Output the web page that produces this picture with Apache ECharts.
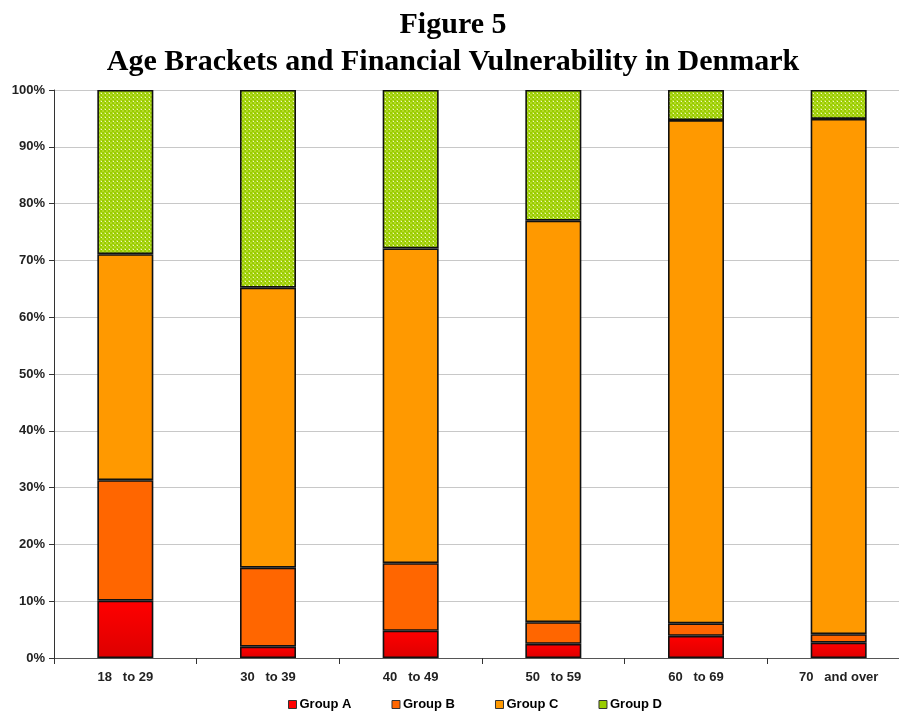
<!DOCTYPE html>
<html><head><meta charset="utf-8">
<script src="https://cdn.jsdelivr.net/npm/echarts@6/dist/echarts.min.js"></script>
<style>html,body{margin:0;padding:0;background:#fff;overflow:hidden}#c{width:912px;height:712px}</style>
</head><body><div id="c"></div>
<script>
var categories = ['18   to 29', '30   to 39', '40   to 49', '50   to 59', '60   to 69', '70   and over'];
var groupA = [10.1, 2.0, 4.8, 2.5, 3.9, 2.7];
var groupB = [21.2, 13.9, 11.9, 3.8, 2.2, 1.5];
var groupC = [39.8, 49.3, 55.4, 70.7, 88.6, 90.7];
var groupD = [28.9, 34.8, 27.9, 23.0, 5.3, 5.1];
var seriesNames = ['Group A', 'Group B', 'Group C', 'Group D'];

function greenPattern() {
  var c = document.createElement('canvas');
  c.width = 4; c.height = 4;
  var x = c.getContext('2d');
  x.fillStyle = '#99cc00'; x.fillRect(0, 0, 4, 4);
  x.fillStyle = '#b4da28'; x.fillRect(0, 0, 2, 2); x.fillRect(2, 2, 2, 2);
  x.fillStyle = '#f0f8c8'; x.fillRect(1, 1, 1, 1);
  return c;
}
var colA = {type:'linear', x:0, y:0, x2:0, y2:1, colorStops:[{offset:0,color:'#ff0000'},{offset:1,color:'#dd0000'}]};
var colors = [colA, '#ff6600', '#ff9900', {image: greenPattern(), repeat: 'repeat'}];
var legendColors = ['#ff0000', '#ff6600', '#ff9900', '#99cc00'];
var data = [groupA, groupB, groupC, groupD];

var chart = echarts.init(document.getElementById('c'), null, {renderer: 'canvas'});
chart.setOption({
  animation: false,
  backgroundColor: '#fff',
  title: {
    text: 'Figure 5\nAge Brackets and Financial Vulnerability in Denmark',
    left: 448, top: 2, textAlign: 'center',
    textStyle: {fontFamily: 'Liberation Serif', fontWeight: 'bold', fontSize: 30, lineHeight: 37, color: '#000'}
  },
  legend: {
    top: 693, left: 283, itemWidth: 8, itemHeight: 8, itemGap: 40,
    icon: 'rect',
    textStyle: {fontFamily: 'Liberation Sans', fontWeight: 'bold', fontSize: 13, color: '#000', padding: [0, 0, 0, -2]},
    data: seriesNames.map(function (n, i) {
      return {name: n, itemStyle: {color: legendColors[i], borderColor: '#333', borderWidth: 1}};
    })
  },
  grid: {left: 54, top: 90, bottom: 54, width: 856},
  xAxis: {
    type: 'category', data: categories,
    axisLine: {lineStyle: {color: '#555', width: 1}},
    axisTick: {show: true, length: 6, lineStyle: {color: '#333'}},
    axisLabel: {fontFamily: 'Liberation Sans', fontWeight: 'bold', fontSize: 13, color: '#222', margin: 13}
  },
  yAxis: {
    type: 'value', min: 0, max: 100, interval: 10,
    axisLine: {show: true, lineStyle: {color: '#333'}},
    axisTick: {show: true, length: 5, lineStyle: {color: '#333'}},
    splitLine: {lineStyle: {color: '#c8c8c8'}},
    axisLabel: {formatter: '{value}%', fontFamily: 'Liberation Sans', fontWeight: 'bold', fontSize: 13, color: '#222', margin: 9}
  },
  series: seriesNames.map(function (n, i) {
    return {
      name: n, type: 'bar', stack: 'total', barWidth: 56,
      data: data[i],
      itemStyle: {color: colors[i], borderColor: '#111', borderWidth: 1.6}
    };
  })
});
</script></body></html>
